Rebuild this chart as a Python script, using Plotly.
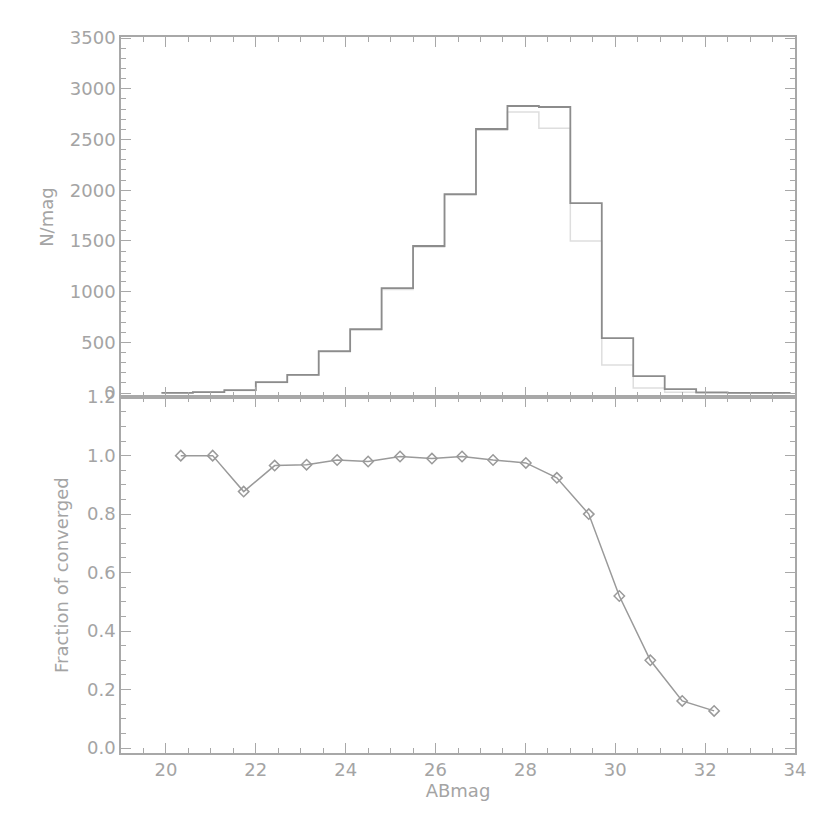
import plotly.graph_objects as go
from plotly.subplots import make_subplots

# Histogram bin edges (AB mag) and counts per mag
bin_edges = [19.9, 20.6, 21.3, 22.0, 22.7, 23.4, 24.1, 24.8, 25.5, 26.2, 26.9,
             27.6, 28.3, 29.0, 29.7, 30.4, 31.1, 31.8, 32.5, 33.2, 33.9]
counts_all = [3, 10, 30, 108, 180, 414, 631, 1035, 1450, 1962, 2603,
              2830, 2820, 1873, 542, 168, 39, 8, 3, 2]
counts_conv = [3, 10, 26, 105, 175, 405, 620, 1020, 1440, 1950, 2590,
               2770, 2610, 1500, 276, 50, 8, 2, 1, 0]

# Fraction of converged
mag_pts = [20.33, 21.04, 21.73, 22.42, 23.13, 23.81, 24.50, 25.21, 25.92,
           26.59, 27.28, 28.01, 28.70, 29.41, 30.09, 30.78, 31.49, 32.20]
frac_pts = [1.0, 1.0, 0.877, 0.966, 0.969, 0.985, 0.98, 0.997, 0.99,
            0.997, 0.985, 0.975, 0.924, 0.80, 0.52, 0.30, 0.161, 0.127]

AX = "#a8a8a8"
TXT = "#a4a4a4"
FONT = "DejaVu Sans"

fig = make_subplots(rows=2, cols=1, shared_xaxes=False, vertical_spacing=0.0,
                    row_heights=[0.503, 0.497])

fig.add_trace(go.Scatter(x=bin_edges, y=counts_conv + [counts_conv[-1]],
                         mode="lines", line=dict(shape="hv", color="#dedede", width=1.5),
                         showlegend=False), row=1, col=1)
fig.add_trace(go.Scatter(x=bin_edges, y=counts_all + [counts_all[-1]],
                         mode="lines", line=dict(shape="hv", color="#8c8c8c", width=1.8),
                         showlegend=False), row=1, col=1)

fig.add_trace(go.Scatter(x=mag_pts, y=frac_pts, mode="lines+markers",
                         line=dict(color="#9a9a9a", width=1.5),
                         marker=dict(symbol="diamond-open", size=8,
                                     color="#9a9a9a", line=dict(width=1.5)),
                         showlegend=False), row=2, col=1)

xcommon = dict(range=[19, 34], dtick=2, tick0=20, ticks="inside", ticklen=10,
               tickwidth=1.2, tickcolor=AX, showline=True, linecolor=AX,
               linewidth=1.5, mirror="ticks", showgrid=False, zeroline=False,
               automargin=False,
               minor=dict(ticks="inside", ticklen=5, dtick=0.5, tickcolor=AX,
                          tickwidth=1),
               tickfont=dict(family=FONT, size=18, color=TXT))

fig.update_xaxes(**xcommon, showticklabels=False, row=1, col=1)
fig.update_xaxes(**xcommon, showticklabels=True,
                 title=dict(text="ABmag", font=dict(family=FONT, size=18, color=TXT),
                            standoff=2), row=2, col=1)

fig.update_yaxes(range=[-40, 3510], dtick=500, tick0=0, ticks="inside", ticklen=10,
                 tickwidth=1.2, tickcolor=AX, showline=True, linecolor=AX,
                 linewidth=1.5, mirror="ticks", showgrid=False, zeroline=False,
                 automargin=False,
                 minor=dict(ticks="inside", ticklen=5, dtick=100, tickcolor=AX,
                            tickwidth=1),
                 tickfont=dict(family=FONT, size=18, color=TXT),
                 title=dict(text="N/mag", font=dict(family=FONT, size=18, color=TXT),
                            standoff=12),
                 row=1, col=1)
fig.update_yaxes(range=[-0.017, 1.2], dtick=0.2, tick0=0, tickformat=".1f",
                 ticks="inside", ticklen=10,
                 tickwidth=1.2, tickcolor=AX, showline=True, linecolor=AX,
                 linewidth=1.5, mirror="ticks", showgrid=False, zeroline=False,
                 automargin=False,
                 minor=dict(ticks="inside", ticklen=5, dtick=0.05, tickcolor=AX,
                            tickwidth=1),
                 tickfont=dict(family=FONT, size=18, color=TXT),
                 title=dict(text="Fraction of converged",
                            font=dict(family=FONT, size=18, color=TXT), standoff=14),
                 row=2, col=1)

fig.update_layout(width=830, height=830, paper_bgcolor="white", plot_bgcolor="white",
                  margin=dict(l=113, r=43, t=29, b=85),
                  font=dict(family=FONT, color=TXT))

fig.write_html("out.html")
